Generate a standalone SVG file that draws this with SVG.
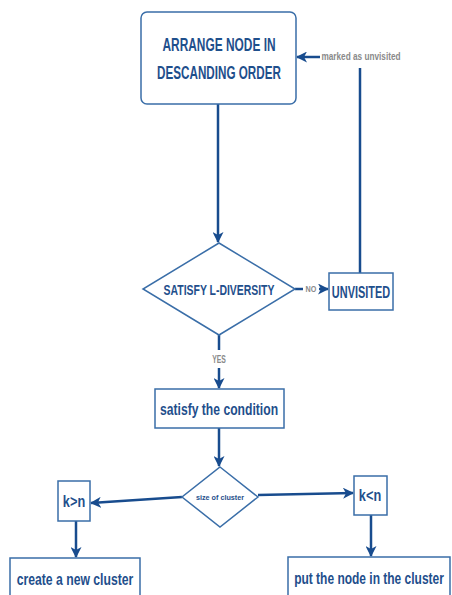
<svg xmlns="http://www.w3.org/2000/svg" width="452" height="595" viewBox="0 0 452 595">
<style>
.box{fill:#fff;stroke:#3a6ea8;stroke-width:1.5}
.t{font-family:"Liberation Sans",Arial,sans-serif;font-weight:bold;fill:#1f4f8c;text-anchor:middle}
.lbl{font-family:"Liberation Sans",Arial,sans-serif;font-weight:bold;fill:#8a8a8a;text-anchor:middle}
.c{stroke:#184c8e;stroke-width:2.5;fill:none}
</style>
<defs>
<marker id="ah" markerWidth="11" markerHeight="11" refX="10" refY="5.5" orient="auto" markerUnits="userSpaceOnUse">
<path d="M0,0 L11,5.5 L0,11 L3,5.5 Z" fill="#184c8e"/>
</marker>
</defs>
<rect width="452" height="595" fill="#fff"/>
<g id="connectors">
<line class="c" x1="218" y1="104" x2="218" y2="242" marker-end="url(#ah)"/>
<line class="c" x1="360" y1="273" x2="360" y2="68"/>
<line class="c" x1="320" y1="57" x2="297" y2="57" marker-end="url(#ah)"/>
<line class="c" x1="295" y1="289" x2="303" y2="289"/>
<line class="c" x1="319" y1="289" x2="328" y2="289" marker-end="url(#ah)"/>
<line class="c" x1="219" y1="335" x2="219" y2="350"/>
<line class="c" x1="219" y1="368" x2="219" y2="388" marker-end="url(#ah)"/>
<line class="c" x1="219" y1="428" x2="219" y2="466" marker-end="url(#ah)"/>
<line class="c" x1="182" y1="497" x2="91" y2="503" marker-end="url(#ah)"/>
<line class="c" x1="258" y1="495" x2="353" y2="493" marker-end="url(#ah)"/>
<line class="c" x1="76" y1="521" x2="76" y2="557" marker-end="url(#ah)"/>
<line class="c" x1="371" y1="515" x2="371" y2="556" marker-end="url(#ah)"/>
<text class="lbl" transform="translate(361,60) scale(0.72,1)" font-size="10" textLength="110" lengthAdjust="spacingAndGlyphs">marked as unvisited</text>
<text class="lbl" transform="translate(311,292) scale(0.72,1)" font-size="9" textLength="15" lengthAdjust="spacingAndGlyphs">NO</text>
<text class="lbl" transform="translate(219,363) scale(0.72,1)" font-size="10" textLength="19" lengthAdjust="spacingAndGlyphs">YES</text>
</g>
<g id="arrange">
<rect class="box" x="141" y="12" width="155" height="92" rx="6"/>
<text class="t" transform="translate(219,51) scale(0.72,1)" font-size="18" textLength="157" lengthAdjust="spacingAndGlyphs">ARRANGE NODE IN</text>
<text class="t" transform="translate(219,79) scale(0.72,1)" font-size="18" textLength="172" lengthAdjust="spacingAndGlyphs">DESCANDING ORDER</text>
</g>
<g id="satisfy-ldiversity">
<polygon class="box" points="219,243 295,289 219,335 143,289"/>
<text class="t" transform="translate(219,295) scale(0.72,1)" font-size="15" textLength="154" lengthAdjust="spacingAndGlyphs">SATISFY L-DIVERSITY</text>
</g>
<g id="unvisited">
<rect class="box" x="329" y="273" width="64" height="37"/>
<text class="t" transform="translate(361,298) scale(0.72,1)" font-size="16" textLength="81" lengthAdjust="spacingAndGlyphs">UNVISITED</text>
</g>
<g id="satisfy-condition">
<rect class="box" x="155" y="389" width="129" height="39"/>
<text class="t" transform="translate(219,415) scale(0.72,1)" font-size="17" textLength="164" lengthAdjust="spacingAndGlyphs">satisfy the condition</text>
</g>
<g id="size-of-cluster">
<polygon class="box" points="220,467 258,497 220,527 182,497"/>
<text class="t" transform="translate(220,500) scale(0.72,1)" font-size="8" textLength="67" lengthAdjust="spacingAndGlyphs">size of cluster</text>
</g>
<g id="k-gt-n">
<rect class="box" x="58" y="481" width="32" height="40"/>
<text class="t" transform="translate(74,507) scale(0.72,1)" font-size="16" textLength="31" lengthAdjust="spacingAndGlyphs">k&gt;n</text>
</g>
<g id="k-lt-n">
<rect class="box" x="354" y="476" width="33" height="39"/>
<text class="t" transform="translate(370,501) scale(0.72,1)" font-size="16" textLength="31" lengthAdjust="spacingAndGlyphs">k&lt;n</text>
</g>
<g id="create-cluster">
<path class="box" d="M10,595 V558 H140 V595"/>
<text class="t" transform="translate(75,585) scale(0.72,1)" font-size="17" textLength="162" lengthAdjust="spacingAndGlyphs">create a new cluster</text>
</g>
<g id="put-node">
<path class="box" d="M288,595 V557 H450 V595"/>
<text class="t" transform="translate(369,584) scale(0.72,1)" font-size="17" textLength="208" lengthAdjust="spacingAndGlyphs">put the node in the cluster</text>
</g>
</svg>
